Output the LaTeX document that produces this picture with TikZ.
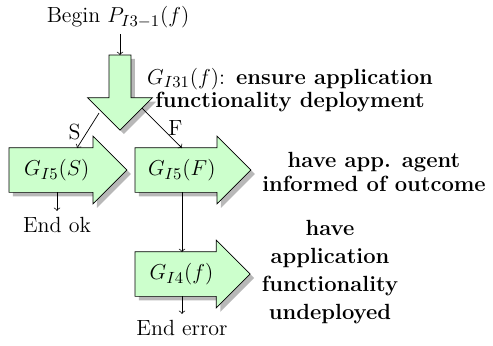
\documentclass[tikz,border=0pt]{standalone}
\usetikzlibrary{shapes.arrows,shadows,calc}
\definecolor{pale}{RGB}{204,255,204}
\begin{document}
\begin{tikzpicture}[x=0.5556pt,y=-0.5556pt,
  every node/.style={font=\fontsize{12.2}{13}\selectfont},
  garrow/.style={single arrow, draw=black, fill=pale, single arrow tip angle=90, outer sep=0pt,
     drop shadow={shadow xshift=2.2pt, shadow yshift=-2.2pt, fill=black!28, opacity=1}},
  harrow/.style={garrow, single arrow head extend=6.4pt, text height=9pt, text depth=3pt,
     inner ysep=6.22pt, inner xsep=3pt, anchor=tail},
  lbl/.style={font=\fontsize{12.2}{13.2}\selectfont\bfseries, align=center},
  conn/.style={->, draw=black, line width=0.4pt}]
\useasboundingbox (0,0) rectangle (493,345);
\node (begin) at (118,17) {Begin $P_{I3-1}(f)$};
\node[garrow, shape border rotate=270, single arrow head extend=11.9pt, inner sep=5.9pt,
      text height=0pt, text depth=0pt, minimum height=41.7pt, anchor=tail] (d) at (120,55) {};
\node[lbl] (dl) at (290,90) {$G_{I31}(f)${\mdseries :} ensure application\\functionality deployment};
\node[harrow, minimum height=65.5pt] (s) at (9,170) {$G_{I5}(S)$};
\node[harrow, minimum height=64.4pt] (fn) at (135,170) {$G_{I5}(F)$};
\node[harrow, minimum height=64pt] (g4) at (135,274) {$G_{I4}(f)$};
\node[lbl] (ol) at (374,172) {have app. agent\\informed of outcome};
\node[lbl, font=\fontsize{12.2}{15.5}\selectfont\bfseries] (ul) at (330,272) {have\\application\\functionality\\undeployed};
\node (eok) at (57,225) {End ok};
\node (eerr) at (182,328) {End error};
\draw[conn] (begin.south -| d.tail) -- (d.tail);
\draw[conn] ($(d.tip)+(-21,-17)$) -- node[left,pos=0.55] (lS) {S} ($(s.tail)+(68,-22)$);
\draw[conn] ($(d.tip)+(22,-22)$) -- node[right,pos=0.5] (lF) {F} ($(fn.tail)+(47,-22)$);
\draw[conn] ($(s.tail)+(48,22)$) -- (eok);
\draw[conn] ($(fn.tail)+(47,22)$) -- ($(g4.tail)+(47,-22)$);
\draw[conn] ($(g4.tail)+(47,22)$) -- (eerr);
\end{tikzpicture}
\end{document}
